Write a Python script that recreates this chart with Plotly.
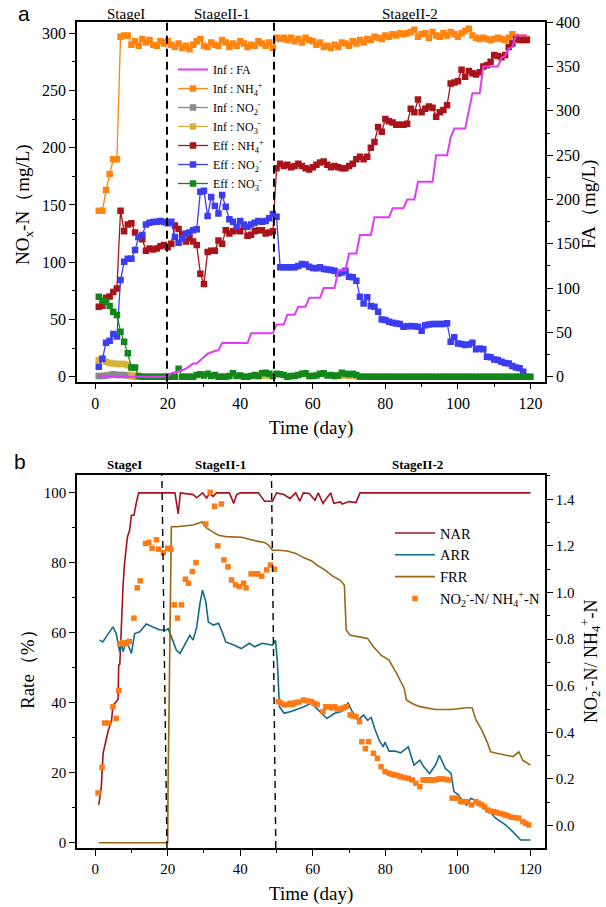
import plotly.graph_objects as go

SERIF = "Liberation Serif, Times New Roman, Times, serif"

# ---------------- Panel a data ----------------
INF_NH4_DAYS = list(range(1, 120))
INF_NH4 = [145, 145, 163, 177, 190, 190, 297, 298, 298,
           290, 293, 289, 295, 292, 294, 290, 289, 293, 291, 293,
           290, 288, 291, 287, 289, 286, 290, 293, 295, 289,
           288, 292, 290, 289, 294, 292, 288, 291, 289, 293,
           291, 288, 290, 289, 293, 291, 289, 292, 287, 296,
           295, 296, 294, 296, 293, 295, 292, 296, 294, 293,
           290, 292, 288, 289, 287, 290, 288, 292, 291, 289,
           293, 291, 294, 292, 295, 294, 297, 296, 295, 298,
           297, 299, 298, 300, 299, 300, 301, 303, 297, 299,
           300, 296, 301, 298, 297, 300, 298, 301, 299, 297,
           300, 302, 304, 298, 296, 295, 296, 295, 294, 295,
           296, 295, 294, 296, 299, 297, 295, 296, 295]

INF_NO2_DAYS = [1, 2, 3, 4, 5, 6, 7, 8, 9, 10, 11]
INF_NO2 = [0.5, 0.5, 1.0, 1.5, 2.0, 1.5, 1.5, 1.5, 1.0, 0.5, 0.0]

INF_NO3_DAYS = [1, 2, 3, 4, 5, 6, 7, 8, 9, 10, 11, 45, 46, 47, 48, 66, 67, 68, 69, 70, 71, 72]
INF_NO3 = [14.5, 16, 13, 12, 11.5, 11, 11, 11, 10, 1, 0, 0.5, 1, 1, 0.5, 0.5, 1, 1, 1, 0.5, 1, 0.5]

EFF_NH4_DAYS = list(range(1, 120))
EFF_NH4 = [61, 62, 69, 70, 74, 77, 145, 127, 133, 134,
           126, 122, 120, 110, 112, 111, 112, 114, 115, 113,
           116, 132, 129, 124, 118, 121, 118, 115, 90, 81,
           109, 110, 110, 119, 116, 128, 125, 127, 128, 127,
           131, 123, 124, 127, 128, 128, 125, 126, 127, 182,
           186, 184, 185, 183, 184, 186, 184, 182, 181, 183,
           185, 187, 188, 185, 183, 184, 183, 182, 182, 184,
           186, 190, 192, 190, 192, 200, 205, 218, 214, 225,
           223, 222, 220, 220, 220, 221, 234, 231, 242, 231,
           234, 236, 235, 227, 231, 233, 237, 256, 257, 258,
           268, 262, 267, 265, 264, 266, 271, 272, 275, 281,
           280, 279, 281, 288, 291, 295, 294, 294, 294]

EFF_NO2_DAYS = list(range(1, 119))
EFF_NO2 = [8.7, 15.4, 29.7, 31.4, 37.3, 35.0, 84.4, 100.4, 103.0, 103.0,
           110.6, 122.0, 123.7, 133.0, 134.5, 135.0, 135.4, 136.0, 135.0, 134.0,
           135.4, 122.0, 117.0, 121.0, 125.0, 126.0, 128.0, 128.7, 161.6, 162.4,
           140.3, 157.0, 149.0, 142.6, 158.7, 148.5, 137.4, 135.4, 131.0, 136.0,
           133.0, 131.0, 133.0, 134.5, 136.0, 135.4, 136.0, 138.3, 142.0, 139.7,
           95.5, 95.5, 95.5, 95.5, 95.5, 96.6, 98.4, 98.0, 96.0, 95.0,
           94.6, 95.5, 94.0, 93.7, 93.2, 92.5, 90.2, 91.0, 92.6, 87.3,
           86.8, 83.8, 69.9, 64.0, 69.3, 61.7, 61.1, 56.8, 50.0, 49.5,
           48.0, 47.2, 46.5, 46.0, 43.7, 44.0, 44.2, 44.0, 43.7, 40.2,
           45.0, 45.5, 46.0, 46.0, 46.0, 46.0, 46.6, 30.6, 34.4, 29.0,
           28.5, 27.7, 28.0, 29.7, 24.0, 24.7, 23.9, 17.5, 16.9, 15.0,
           14.6, 13.1, 12.0, 11.6, 9.3, 8.0, 7.3, 4.4]

EFF_NO3_DAYS = list(range(1, 121))
EFF_NO3 = [69.9, 66.4, 65.5, 61.7, 56.8, 53.9, 39.3, 30.6, 20.4, 7.9,
           7.9, 0.5, 0, 0, 0, 0, 0, 0, 0, 0,
           0, 0, 7.0, 0, 0, 0, 0, 1.5, 2.0, 1.0,
           2.5, 0.5, 1.5, 0, 0, 0, 0.5, 3.0, 0.5, 1.0,
           0, 0, 0.5, 1.5, 0.5, 3.0, 3.5, 2.5, 0.5, 2.5,
           2.0, 1.5, 0, 0.5, 0.5, 1.5, 2.5, 3.0, 0.5, 0.5,
           1.0, 2.5, 3.0, 1.0, 1.5, 0.5, 1.0, 3.5, 2.5, 2.0,
           2.5, 1.5, 0, 0, 0, 0, 0, 0, 0, 0,
           0, 0, 0, 0, 0, 0, 0, 0, 0, 0,
           0, 0, 0, 0, 0, 0, 0, 0, 0, 0,
           0, 0, 0, 0, 0, 0, 0, 0, 0, 0,
           0, 0, 0, 0, 0, 0, 0, 0, 0, 0]

FA_DAYS = [1, 20, 21, 23, 25, 27, 28, 29, 31, 33, 34, 35, 42, 43, 49, 50, 52, 53, 55, 56,
           58, 59, 62, 63, 66, 67, 69, 70, 72, 73, 76, 77, 81, 82, 85, 86, 88, 89, 93, 94,
           97, 98, 99, 102, 103, 104, 106, 107, 111, 112, 113, 114, 115, 116, 119]
FA = [0, 0, 4, 6, 9, 15, 15, 19, 26, 29, 30, 38, 38, 49, 49, 59, 59, 70, 70, 79,
      79, 89, 89, 100, 100, 120, 120, 139, 139, 160, 160, 180, 180, 190, 190, 200, 200, 220, 220, 250,
      250, 270, 280, 280, 300, 320, 320, 350, 350, 360, 362, 370, 372, 385, 385]

STAGE_BOUNDS_A = [19.8, 49.3]
STAGE_NAMES = ["StageI", "StageII-1", "StageII-2"]
STAGE_LABEL_X_A = [8.4, 34.9, 86.9]

# ---------------- Panel b data ----------------
NAR_DAYS = [1, 1.7, 2.2, 3.1, 3.6, 4.5, 4.9, 5.8, 6.3, 6.5, 6.8, 7.7, 8.1, 8.9, 9.5, 10, 10.7, 11.4, 12,
            22, 22.5, 22.9, 23.5, 27, 28, 29, 29.6, 30.7, 31.5, 32.5, 33.5, 37, 38.2, 39, 40, 45, 46.7,
            48.9, 50, 52, 53.7, 55.3, 56.4, 57.4, 59, 60.6, 61.5, 62.8, 64.9, 65.8, 67.6, 68.1, 70,
            71.9, 73, 120]
NAR = [10.8, 16, 25.6, 30.3, 32, 34.6, 39.3, 40.3, 41, 50.8, 51, 73.6, 79.8, 87.4, 89.3, 93.6, 93.6, 97.4, 100,
       100, 97, 94, 100, 99.5, 98.6, 99.5, 100, 98.5, 99.8, 99, 100, 100, 97, 99.5, 100, 100, 97.6,
       97.6, 100, 99.5, 98.4, 100, 97.6, 100, 99.8, 97.9, 100, 97, 100, 97, 97.4, 96.8, 97.5,
       97.2, 100, 100]

ARR_DAYS = [1.2, 2.1, 3.1, 4.9, 5.8, 6.75, 7.2, 7.7, 8.6, 10, 10.9, 12.3, 14.1, 16, 17.8, 19.6, 20.1, 21,
            22.4, 23.4, 24.7, 26.1, 27, 28, 28.9, 29.6, 30.5, 31.2, 32.6, 34, 35, 36, 38.2, 40.3, 42.5,
            44, 46, 48.9, 49.7, 50.2, 50.8, 52.1, 54.2, 57.4, 59.6, 61.7, 63.9, 66, 68.1, 69.7, 70.8,
            72.4, 74, 75.1, 76.1, 77.2, 78.3, 79.4, 79.9, 81, 82.6, 84.2, 86.3, 87.9, 89.5, 90.6, 92.2,
            93.8, 94.9, 96.5, 98.1, 98.9, 100.2, 101.3, 102.4, 103.6, 105.6, 107.2, 108.8, 110.4, 112,
            113, 114.7, 117.3, 120]
ARR = [57.9, 57.4, 58.9, 61.7, 59.8, 54.6, 57, 54.6, 57.9, 54.1, 59.8, 60.3, 62.5, 61.7, 60.8, 60.8, 61.2, 58.9,
       55, 54.1, 56.5, 59.3, 57.9, 61.7, 68.4, 72.2, 68.9, 63.1, 62.2, 62.7, 60.3, 57.4, 56.5, 55.5, 57,
       56, 57, 56.5, 57.9, 52.2, 38.9, 37, 37.6, 38.8, 39.9, 37.6, 35.5, 37, 37.6, 39.9, 37.6,
       35, 36.5, 35, 35.8, 32.2, 29.3, 27.4, 28.8, 26.2, 26.2, 25.7, 27.4, 22.2, 23.6, 21.7, 19.8,
       22.2, 25, 21.3, 19.8, 14.6, 13.6, 11.7, 10.8, 12.7, 11.7, 10.3, 8.9, 7, 6,
       5.2, 3.6, 0.8, 0.8]

FRR_DAYS = [1, 20, 20.1, 20.6, 21, 22.4, 27, 29.4, 30.7, 32.3, 34, 36, 40.3, 44.6, 46.7, 47.8, 48.9, 51,
            53.2, 55.3, 57.4, 59.6, 61.2, 63.3, 65.5, 67.6, 68.7, 69.2, 70.3, 72.4, 75.1, 76.7, 78.8,
            81, 83.1, 85.2, 85.8, 87.4, 89.5, 93.8, 98.1, 102.4, 103.9, 105, 106.6, 108.2, 109, 110.9,
            113, 115.2, 116.8, 117.9, 120]
FRR = [0, 0, 16, 50, 90.3, 90.3, 90.8, 91.7, 90, 88.9, 87.9, 87.5, 87.3, 86.2, 85.8, 85.1, 83.6, 83.6,
       83.3, 82.7, 81.5, 80.6, 79.3, 78, 76.2, 75, 73.6, 60.8, 59.3, 58.9, 58.4, 56, 53.6,
       52.2, 48.4, 44.1, 40.8, 39.8, 38.9, 38.1, 38.1, 38.6, 38.6, 35, 32.2, 28.4, 26, 25.5,
       25, 24.6, 26, 23.5, 22.2]

RATIO_DAYS = [0.8, 1.9, 2.6, 3.7, 4.9, 5.8, 6.5, 6.9, 7.6, 8.5, 9.4, 10.7, 11.6, 12.4, 13.9, 14.8, 15.7,
              16.9, 17.5, 18.8, 20, 20.9, 21.8, 22.7, 23.8, 24.9, 25.7, 26.8, 27.8, 30.5, 31.7, 32.9,
              33.8, 34.8, 35.5, 36.6, 37.6, 38.7, 39.8, 40.9, 41.6, 43, 44, 44.8, 45.9, 47.3, 48.3,
              49.4, 50.5, 51.3, 52.1, 53, 53.8, 54.5, 55.3, 56.2, 57.4, 58.5, 59.6, 60.4, 61.2, 62.8,
              63.6, 64.4, 65.2, 66, 66.8, 67.6, 68.4, 69.2, 70.3, 71.1, 71.9, 72.9, 73.5, 74.5, 75.4,
              76.7, 77.8, 78.8, 79.9, 81, 81.8, 82.6, 83.4, 84.2, 85.2, 86.3, 87.4, 88.4, 89.5, 90.4,
              91.1, 91.7, 92.5, 93.2, 93.8, 94.6, 95.3, 95.9, 96.7, 97.5, 98.4, 99.7, 100.7, 101.5,
              102.4, 103.7, 105, 105.8, 106.6, 107.4, 108.2, 109, 109.8, 110.6, 111.4, 112.2, 113,
              113.8, 114.7, 115.8, 116.8, 117.9, 118.7, 119.5]
RATIO = [0.14, 0.25, 0.44, 0.44, 0.51, 0.46, 0.58, 0.78, 0.785, 0.78, 0.79, 0.89, 1.02, 1.05, 1.21, 1.215, 1.19,
         1.226, 1.186, 1.17, 1.19, 1.186, 0.947, 0.89, 0.947, 1.057, 1.04, 1.09, 1.128, 1.294, 1.43, 1.37,
         1.2, 1.38, 1.14, 1.11, 1.054, 1.033, 1.025, 1.04, 1.02, 1.08, 1.08, 1.08, 1.07, 1.097, 1.118,
         1.1, 0.532, 0.525, 0.518, 0.52, 0.525, 0.52, 0.528, 0.53, 0.539, 0.535, 0.532, 0.525, 0.52, 0.489,
         0.51, 0.51, 0.505, 0.51, 0.5, 0.5, 0.505, 0.51, 0.475, 0.47, 0.468, 0.446, 0.36, 0.33, 0.36,
         0.31, 0.289, 0.253, 0.232, 0.225, 0.22, 0.217, 0.215, 0.21, 0.206, 0.203, 0.196, 0.182, 0.167, 0.196,
         0.196, 0.196, 0.196, 0.196, 0.196, 0.2, 0.2, 0.2, 0.198, 0.196, 0.118, 0.118, 0.103, 0.103,
         0.103, 0.089, 0.103, 0.095, 0.089, 0.08, 0.067, 0.062, 0.06, 0.057, 0.053, 0.05, 0.046,
         0.042, 0.036, 0.034, 0.032, 0.017, 0.01, 0.003]

STAGE_BOUNDS_B_TOP = [18.4, 48.6]
STAGE_BOUNDS_B_BOTTOM = [19.8, 49.8]
STAGE_LABEL_X_B = [8.0, 34.5, 88.8]

# ---------------- Figure ----------------
fig = go.Figure()

def line_marker(x, y, name, color, yaxis, rank):
    return go.Scatter(x=x, y=y, name=name, mode="lines+markers", xaxis="x", yaxis=yaxis,
                      line=dict(color=color, width=1.3),
                      marker=dict(symbol="square", size=6.5, color=color),
                      legend="legend", legendrank=rank)

fig.add_trace(line_marker(INF_NO2_DAYS, INF_NO2, "Inf : NO<sub>2</sub><sup>-</sup>", "#8a8a8a", "y", 3))
fig.add_trace(line_marker(INF_NO3_DAYS, INF_NO3, "Inf : NO<sub>3</sub><sup>-</sup>", "#d6b23a", "y", 4))
fig.add_trace(line_marker(INF_NH4_DAYS, INF_NH4, "Inf : NH<sub>4</sub><sup>+</sup>", "#ff8410", "y", 2))
fig.add_trace(line_marker(EFF_NH4_DAYS, EFF_NH4, "Eff : NH<sub>4</sub><sup>+</sup>", "#a8141a", "y", 5))
fig.add_trace(line_marker(EFF_NO2_DAYS, EFF_NO2, "Eff : NO<sub>2</sub><sup>-</sup>", "#3c3cf2", "y", 6))
fig.add_trace(line_marker(EFF_NO3_DAYS, EFF_NO3, "Eff : NO<sub>3</sub><sup>-</sup>", "#12881a", "y", 7))
fig.add_trace(go.Scatter(x=FA_DAYS, y=FA, name="Inf : FA", mode="lines", xaxis="x", yaxis="y2",
                         line=dict(color="#e03cf5", width=2), legend="legend", legendrank=1))

fig.add_trace(go.Scatter(x=NAR_DAYS, y=NAR, name="NAR", mode="lines", xaxis="x2", yaxis="y3",
                         line=dict(color="#a3121c", width=1.6), legend="legend2", legendrank=1))
fig.add_trace(go.Scatter(x=ARR_DAYS, y=ARR, name="ARR", mode="lines", xaxis="x2", yaxis="y3",
                         line=dict(color="#146a86", width=1.6), legend="legend2", legendrank=2))
fig.add_trace(go.Scatter(x=FRR_DAYS, y=FRR, name="FRR", mode="lines", xaxis="x2", yaxis="y3",
                         line=dict(color="#9a6516", width=1.6), legend="legend2", legendrank=3))
fig.add_trace(go.Scatter(x=RATIO_DAYS, y=RATIO, name="NO<sub>2</sub><sup>-</sup>-N/ NH<sub>4</sub><sup>+</sup>-N",
                         mode="markers", xaxis="x2", yaxis="y4",
                         marker=dict(symbol="square", size=5.5, color="#ff7a14"),
                         legend="legend2", legendrank=4))

W, H = 606, 907
XDOM = [77 / W, 545 / W]
A_DOM = [1 - 381.7 / H, 1 - 22.0 / H]
B_DOM = [1 - 848 / H, 1 - 475 / H]

axis_common = dict(showline=True, linecolor="black", linewidth=1.5, showgrid=False, zeroline=False,
                   ticks="outside", ticklen=6, tickwidth=1.3, tickcolor="black")

fig.update_layout(
    width=W, height=H, margin=dict(l=0, r=0, t=0, b=0, autoexpand=False),
    paper_bgcolor="white", plot_bgcolor="white",
    font=dict(family=SERIF, color="black"),
    xaxis=dict(domain=XDOM, anchor="y", range=[-5, 124], dtick=20, tick0=0, mirror=True,
               tickfont=dict(size=16), minor=dict(dtick=10, ticks="outside", ticklen=3.5, tickcolor="black"),
               **axis_common),
    yaxis=dict(domain=A_DOM, anchor="x", range=[-4.4, 309.8], dtick=50, tick0=0,
               tickfont=dict(size=16), minor=dict(dtick=25, ticks="outside", ticklen=3.5, tickcolor="black"),
               **axis_common),
    yaxis2=dict(overlaying="y", side="right", anchor="x", range=[-5.6, 400.3], dtick=50, tick0=0,
                tickfont=dict(size=16), minor=dict(dtick=25, ticks="outside", ticklen=3.5, tickcolor="black"),
                **axis_common),
    xaxis2=dict(domain=XDOM, anchor="y3", range=[-5, 124], dtick=20, tick0=0, mirror=True,
                tickfont=dict(size=15), minor=dict(dtick=10, ticks="outside", ticklen=3.5, tickcolor="black"),
                **axis_common),
    yaxis3=dict(domain=B_DOM, anchor="x2", range=[-1.5, 105.1], dtick=20, tick0=0,
                tickfont=dict(size=15), minor=dict(dtick=10, ticks="outside", ticklen=3.5, tickcolor="black"),
                **axis_common),
    yaxis4=dict(overlaying="y3", side="right", anchor="x2", range=[-0.096, 1.504], dtick=0.2, tick0=0,
                tickformat=".1f",
                tickfont=dict(size=15), minor=dict(dtick=0.1, ticks="outside", ticklen=3.5, tickcolor="black"),
                **axis_common),
    legend=dict(x=173 / W, y=1 - 55 / H, xanchor="left", yanchor="top", bgcolor="rgba(0,0,0,0)",
                font=dict(family=SERIF, size=12), tracegroupgap=0, itemwidth=30),
    legend2=dict(x=390 / W, y=1 - 517 / H, xanchor="left", yanchor="top", bgcolor="rgba(0,0,0,0)",
                 font=dict(family=SERIF, size=14.5), tracegroupgap=0, itemwidth=40),
)

shapes = []
for xb in STAGE_BOUNDS_A:
    shapes.append(dict(type="line", xref="x", yref="y domain", x0=xb, x1=xb, y0=0, y1=1,
                       line=dict(color="black", width=2, dash="8px,5px")))
for xt, xbm in zip(STAGE_BOUNDS_B_TOP, STAGE_BOUNDS_B_BOTTOM):
    shapes.append(dict(type="line", xref="x2", yref="y3 domain", x0=xbm, x1=xt, y0=0, y1=1,
                       line=dict(color="black", width=1.4, dash="7px,5px")))
fig.update_layout(shapes=shapes)

def note(text, x, y, size, angle=0, family=SERIF, xref="paper"):
    return dict(text=text, x=x, y=y, xref=xref, yref="paper", showarrow=False, textangle=angle,
                xanchor="center", yanchor="middle", font=dict(family=family, size=size, color="black"))

ann = []
for name, xs in zip(STAGE_NAMES, STAGE_LABEL_X_A):
    ann.append(note(name, xs, 1 - 14 / H, 15, xref="x"))
for name, xs in zip(STAGE_NAMES, STAGE_LABEL_X_B):
    ann.append(note("<b>" + name + "</b>", xs, 1 - 465 / H, 13, xref="x2"))
ann += [
    note("a", 24 / W, 1 - 13 / H, 21, family="Liberation Sans, Arial, sans-serif"),
    note("b", 20 / W, 1 - 461 / H, 21, family="Liberation Sans, Arial, sans-serif"),
    note("NO<sub>x</sub>-N（mg/L)", 24 / W, 1 - 205 / H, 19, angle=-90),
    note("FA（mg/L)", 589 / W, 1 - 205 / H, 19, angle=-90),
    note("Time (day)", 311 / W, 1 - 428 / H, 19),
    note("Rate（%）", 27 / W, 1 - 665 / H, 19, angle=-90),
    note("NO<sub>2</sub><sup>-</sup>-N/ NH<sub>4</sub><sup>+</sup>-N", 590 / W, 1 - 662 / H, 18, angle=-90),
    note("Time (day)", 311 / W, 1 - 894 / H, 19),
]
fig.update_layout(annotations=ann)

fig.write_html("out.html", config={"displayModeBar": False},
               post_script="document.body.style.margin='0px';document.body.style.padding='0px';")
